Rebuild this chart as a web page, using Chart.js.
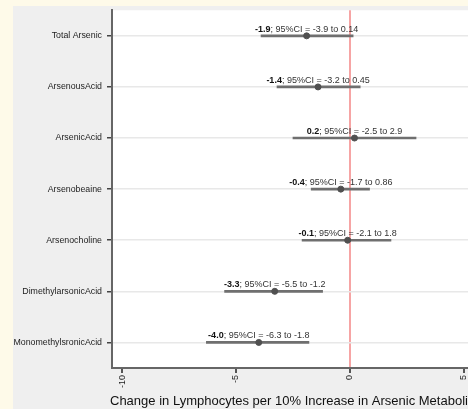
<!DOCTYPE html>
<html>
<head>
<meta charset="utf-8">
<script src="https://cdn.jsdelivr.net/npm/chart.js@4/dist/chart.umd.min.js"></script>
<style>
  html,body{margin:0;padding:0;background:#fefae9;overflow:hidden;}
  #wrap{width:468px;height:409px;position:relative;}
  canvas{display:block;}
</style>
</head>
<body>
<div id="wrap"><canvas id="myChart"></canvas></div>
<script>
// metabolites, top to bottom
var metabolites=["Total Arsenic","ArsenousAcid","ArsenicAcid","Arsenobeaine","Arsenocholine","DimethylarsonicAcid","MonomethylsronicAcid"];
var estimates=[-1.9,-1.4,0.2,-0.4,-0.1,-3.3,-4.0];
var ciLow=[-3.9,-3.2,-2.5,-1.7,-2.1,-5.5,-6.3];
var ciHigh=[0.14,0.45,2.9,0.86,1.8,-1.2,-1.8];
var xTicks=[-10,-5,0,5];
var xTitle="Change in Lymphocytes per 10% Increase in Arsenic Metabolites";

var fam='"Liberation Sans", Arial, sans-serif';

var ciData=[];
var pointData=[];
for(let i=0;i<metabolites.length;i++){
  ciData.push([ciLow[i],ciHigh[i]]);
  pointData.push({x:estimates[i],y:metabolites[i]});
}

// cream frame, grey panel, white plot region
var bgPlugin={
  id:'bg',
  beforeDraw:function(chart){
    var c=chart.ctx, a=chart.chartArea;
    c.save();
    c.fillStyle='#fefae9';
    c.fillRect(0,0,chart.width,chart.height);
    c.fillStyle='#efefef';
    c.fillRect(13,6,chart.width-13,chart.height-6);
    c.fillStyle='#ffffff';
    c.fillRect(a.left,a.top,a.right-a.left,a.bottom-a.top);
    c.restore();
  },
  // axis title drawn by hand so it runs off the right edge like the original
  afterDraw:function(chart){
    var c=chart.ctx;
    c.save();
    c.font='13px '+fam;
    c.fillStyle='#111';
    c.textAlign='left';
    c.textBaseline='alphabetic';
    c.fillText(xTitle,chart.chartArea.left-2,405);
    c.restore();
  }
};

// "est; 95%CI = lo to hi" above each row
var textPlugin={
  id:'ciText',
  afterDatasetsDraw:function(chart){
    var c=chart.ctx;
    var xs=chart.scales.x, ys=chart.scales.y;
    c.save();
    c.textBaseline='alphabetic';
    for(let i=0;i<metabolites.length;i++){
      var bold=estimates[i].toFixed(1);
      var rest="; 95%CI = "+ciLow[i]+" to "+ciHigh[i];
      c.font='bold 9px '+fam;
      var wb=c.measureText(bold).width;
      c.font='9px '+fam;
      var wr=c.measureText(rest).width;
      var px=xs.getPixelForValue(estimates[i]);
      var py=ys.getPixelForValue(i)-4;
      var x0=px-(wb+wr)/2;
      c.textAlign='left';
      c.fillStyle='#111';
      c.font='bold 9px '+fam;
      c.fillText(bold,x0,py);
      c.fillStyle='#333';
      c.font='9px '+fam;
      c.fillText(rest,x0+wb,py);
    }
    c.restore();
  }
};

var ctx=document.getElementById('myChart');
var myChart=new Chart(ctx,{
  type:'bar',
  data:{
    labels:metabolites,
    datasets:[
      {
        type:'bar',
        indexAxis:'y',
        data:ciData,
        backgroundColor:'#6f6f6f',
        borderWidth:0,
        barThickness:2,
        xAxisID:'x',
        yAxisID:'y',
        order:2
      },
      {
        type:'scatter',
        data:pointData,
        backgroundColor:'#505050',
        borderColor:'#505050',
        pointRadius:3,
        showLine:false,
        xAxisID:'x',
        yAxisID:'y',
        order:1
      }
    ]
  },
  options:{
    responsive:true,
    maintainAspectRatio:false,
    animation:false,
    layout:{autoPadding:false,padding:{top:9,right:0,left:0,bottom:0}},
    plugins:{
      legend:{display:false},
      tooltip:{enabled:false}
    },
    scales:{
      x:{
        type:'linear',
        position:'bottom',
        offset:false,
        min:-10.44,
        max:5.18,
        afterBuildTicks:function(scale){
          scale.ticks=xTicks.map(v=>({value:v}));
        },
        afterFit:function(scale){
          scale.height=41;
          scale.paddingLeft=0;
          scale.paddingRight=0;
        },
        grid:{
          offset:false,
          color:function(c){ return c.tick && c.tick.value===0 ? '#f6a4a4' : 'rgba(0,0,0,0)'; },
          lineWidth:2,
          tickColor:'#555',
          tickLength:5,
          drawOnChartArea:true
        },
        border:{color:'#666',width:2},
        ticks:{
          minRotation:90,
          maxRotation:90,
          padding:2,
          color:'#222',
          font:{family:fam,size:9}
        },
        title:{display:false}
      },
      y:{
        type:'category',
        position:'left',
        labels:metabolites,
        offset:true,
        afterFit:function(scale){ scale.width=112; },
        grid:{
          offset:false,
          color:'#e8e8e8',
          lineWidth:1.5,
          tickColor:'#444',
          tickLength:5
        },
        border:{color:'#666',width:2},
        ticks:{
          padding:5,
          color:'#222',
          font:{family:fam,size:8.8}
        }
      }
    }
  },
  plugins:[bgPlugin,textPlugin]
});
</script>
</body>
</html>
